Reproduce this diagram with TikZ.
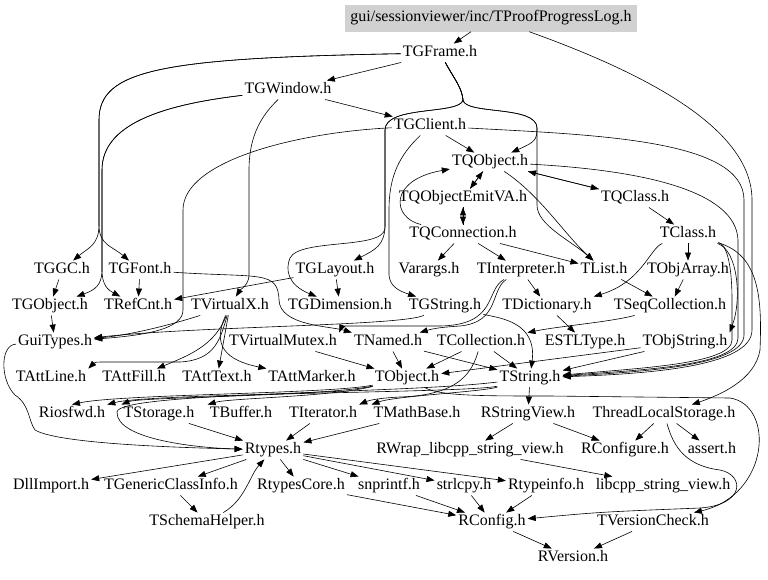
\documentclass[tikz,border=0pt]{standalone}
\usepackage{fontspec}
\setmainfont{Liberation Serif}
\usetikzlibrary{arrows.meta}

\begin{document}
\begin{tikzpicture}[x=1pt, y=-1pt, font=\fontsize{16}{19}\selectfont,
  f/.style={inner xsep=2pt, inner ysep=2pt, text height=11pt, text depth=3.5pt},
  top/.style={f, fill=black!18, minimum height=27pt, inner xsep=5pt},
  e/.style={-{Triangle[length=8pt,width=6pt]}, line width=0.6pt}]
\fill[white] (0,0) rectangle (768,579);
\useasboundingbox (0,0) rectangle (768,579);
% files, row by row
\node[top] (log) at (491,18) {gui/sessionviewer/inc/TProofProgressLog.h};
\node[f] (frame) at (440,53) {TGFrame.h};
\node[f] (window) at (288,90) {TGWindow.h};
\node[f] (client) at (430,126) {TGClient.h};
\node[f] (qobj) at (490,162) {TQObject.h};
\node[f] (emitva) at (463,198) {TQObjectEmitVA.h};
\node[f] (qclass) at (635,198) {TQClass.h};
\node[f] (qconn) at (463,234) {TQConnection.h};
\node[f] (cls) at (688,234) {TClass.h};
\node[f] (ggc) at (62,270) {TGGC.h};
\node[f] (gfont) at (140,270) {TGFont.h};
\node[f] (glayout) at (335,270) {TGLayout.h};
\node[f] (varargs) at (429,270) {Varargs.h};
\node[f] (interp) at (521,270) {TInterpreter.h};
\node[f] (tlist) at (604,270) {TList.h};
\node[f] (objarr) at (688,270) {TObjArray.h};
\node[f] (gobj) at (50,306) {TGObject.h};
\node[f] (refcnt) at (138,306) {TRefCnt.h};
\node[f] (vx) at (230,306) {TVirtualX.h};
\node[f] (gdim) at (340,306) {TGDimension.h};
\node[f] (gstr) at (445,306) {TGString.h};
\node[f] (dict) at (547,306) {TDictionary.h};
\node[f] (seqcoll) at (670,306) {TSeqCollection.h};
\node[f] (guit) at (55,342) {GuiTypes.h};
\node[f] (vmutex) at (283,342) {TVirtualMutex.h};
\node[f] (named) at (388,342) {TNamed.h};
\node[f] (coll) at (481,342) {TCollection.h};
\node[f] (estl) at (585,342) {ESTLType.h};
\node[f] (objstr) at (685,342) {TObjString.h};
\node[f] (attline) at (51,378) {TAttLine.h};
\node[f] (attfill) at (134,378) {TAttFill.h};
\node[f] (atttext) at (217,378) {TAttText.h};
\node[f] (attmarker) at (312,378) {TAttMarker.h};
\node[f] (tobj) at (407,378) {TObject.h};
\node[f] (tstr) at (530,378) {TString.h};
\node[f] (iosfwd) at (72,414) {Riosfwd.h};
\node[f] (storage) at (159,414) {TStorage.h};
\node[f] (buffer) at (241,414) {TBuffer.h};
\node[f] (iter) at (323,414) {TIterator.h};
\node[f] (mathb) at (417,414) {TMathBase.h};
\node[f] (sview) at (528,414) {RStringView.h};
\node[f] (tls) at (664,414) {ThreadLocalStorage.h};
\node[f] (rtypes) at (273,450) {Rtypes.h};
\node[f] (rwrap) at (470,450) {RWrap\_libcpp\_string\_view.h};
\node[f] (rconfigure) at (625,450) {RConfigure.h};
\node[f] (assert) at (712,450) {assert.h};
\node[f] (dllimp) at (51,486) {DllImport.h};
\node[f] (gci) at (171,486) {TGenericClassInfo.h};
\node[f] (rtcore) at (301,486) {RtypesCore.h};
\node[f] (snpr) at (389,486) {snprintf.h};
\node[f] (strl) at (464,486) {strlcpy.h};
\node[f] (rtinfo) at (546,486) {Rtypeinfo.h};
\node[f] (libsv) at (663,486) {libcpp\_string\_view.h};
\node[f] (schema) at (207,522) {TSchemaHelper.h};
\node[f] (rconfig) at (492,522) {RConfig.h};
\node[f] (vcheck) at (653,522) {TVersionCheck.h};
\node[f] (rversion) at (573,558) {RVersion.h};
% top part
\draw[e] (log) -- (frame);
\draw[e] (log) .. controls (650,75) and (752,130) .. (752,200) -- (752,330) .. controls (752,368) and (640,374) .. (tstr);
\draw[e] (frame) -- (window);
\draw[e] (frame) .. controls (160,58) and (99,70) .. (99,120) -- (99,225) .. controls (99,245) and (88,248) .. (ggc);
\draw[e] (frame) .. controls (160,58) and (99,70) .. (99,120) -- (99,225) .. controls (99,245) and (112,246) .. (gfont);
\draw[e] (frame) .. controls (455,80) and (462,88) .. (463,100) .. controls (465,115) and (537,105) .. (537,128) .. controls (537,140) and (535,142) .. (qobj);
\draw[e] (frame) .. controls (455,80) and (462,88) .. (463,100) .. controls (465,115) and (537,105) .. (537,128) -- (537,205) .. controls (537,225) and (570,240) .. (tlist);
\draw[e] (frame) .. controls (455,80) and (462,88) .. (463,100) .. controls (460,115) and (385,105) .. (385,130) -- (385,225) .. controls (385,245) and (375,250) .. (glayout);
\draw[e] (frame) .. controls (455,80) and (462,88) .. (463,100) .. controls (460,115) and (385,105) .. (385,130) -- (385,228) .. controls (384,250) and (300,238) .. (290,258) .. controls (285,270) and (288,285) .. (gdim);
\draw[e] (window) .. controls (160,105) and (102,125) .. (102,170) -- (102,270) .. controls (102,285) and (95,290) .. (gobj);
\draw[e] (window) .. controls (160,105) and (102,125) .. (102,170) -- (102,270) .. controls (102,285) and (108,290) .. (refcnt);
\draw[e] (window) -- (client);
\draw[e] (window) .. controls (262,115) and (249,135) .. (249,170) -- (249,275) .. controls (249,285) and (240,290) .. (vx);
\draw[e] (client) -- (qobj);
\draw[e] (client) .. controls (600,135) and (744,140) .. (744,200) -- (744,335) .. controls (744,366) and (640,372) .. (tstr);
\draw[e] (client) .. controls (300,132) and (183,160) .. (183,210) -- (183,310) .. controls (183,328) and (150,335) .. (guit);
\draw[e] (client) .. controls (400,155) and (389,175) .. (389,210) -- (389,275) .. controls (390,285) and (396,290) .. (gstr);
\draw[e] (qobj) -- (emitva);
\draw[e] (emitva) -- (qobj);
\draw[e] (qobj) -- (qclass);
\draw[e] (qclass) -- (qobj);
\draw[e] (qobj) .. controls (540,195) and (565,235) .. (tlist);
\draw[e] (qobj) .. controls (640,170) and (736,190) .. (738,240) -- (738,338) .. controls (738,366) and (640,370) .. (tstr);
\draw[e] (emitva) -- (qconn);
\draw[e] (qconn) -- (emitva);
\draw[e] (qconn) .. controls (392,218) and (388,180) .. (qobj);
\draw[e] (qclass) -- (cls);
\draw[e] (qconn) -- (varargs);
\draw[e] (qconn) -- (interp);
\draw[e] (qconn) -- (tlist);
\draw[e] (cls) -- (objarr);
\draw[e] (cls) .. controls (650,248) and (642,282) .. (dict.north east);
\draw[e] (cls) .. controls (728,245) and (732,270) .. (732,300) -- (732,340) .. controls (732,364) and (640,368) .. (tstr);
\draw[e] (cls) .. controls (738,250) and (742,300) .. (objstr.north east);
\draw[e] (cls) .. controls (760,255) and (762,300) .. (760,350) .. controls (755,380) and (720,395) .. (tls);
% middle part
\draw[e] (ggc) -- (gobj);
\draw[e] (gfont) -- (refcnt);
\draw[e] (glayout) -- (gdim);
\draw[e] (glayout) -- (refcnt);
\draw[e] (gfont) .. controls (260,278) and (278,270) .. (279,300) .. controls (280,326) and (330,326) .. (named.north west);
\draw[e] (interp) -- (dict);
\draw[e] (tlist) -- (seqcoll);
\draw[e] (objarr) -- (seqcoll);
\draw[e] (interp) .. controls (490,290) and (500,322) .. (460,326) .. controls (445,327) and (435,328) .. (named);
\draw[e] (interp) .. controls (485,290) and (498,325) .. (440,326) -- (350,326) .. controls (342,326) .. (vmutex.north east);
\draw[e] (seqcoll) .. controls (610,322) and (560,326) .. (coll);
\draw[e] (dict) -- (estl);
\draw[e] (gobj) -- (guit);
\draw[e] (vx) .. controls (170,325) and (130,335) .. (guit);
\draw[e] (gstr) .. controls (400,326) and (200,326) .. (guit);
\draw[e] (gstr) .. controls (500,318) and (537,322) .. (tstr);
\draw[e] (guit) .. controls (0,345) and (0,380) .. (15,395) .. controls (30,405) and (28,420) .. (35,430) .. controls (60,445) and (200,448) .. (rtypes);
\draw[e] (vx) .. controls (220,340) and (215,360) .. (180,362) -- (110,362) .. controls (95,362) .. (attline.north east);
\draw[e] (vx) .. controls (215,345) and (190,355) .. (attfill);
\draw[e] (vx) -- (atttext);
\draw[e] (vx) .. controls (212,345) and (225,360) .. (attmarker);
\draw[e] (vmutex) -- (tobj);
\draw[e] (named) -- (tobj);
\draw[e] (named) -- (tstr);
\draw[e] (coll) -- (tobj);
\draw[e] (coll) -- (tstr);
\draw[e] (coll) .. controls (472,372) and (460,395) .. (400,397) .. controls (380,398) and (370,400) .. (iter.north east);
\draw[e] (objstr) -- (tstr);
\draw[e] (objstr) -- (tobj);
% lower part
\draw[e] (tobj) .. controls (330,394) and (120,394) .. (iosfwd.north);
\draw[e] (tstr) .. controls (470,393) and (150,393) .. (iosfwd.north east);
\draw[e] (tobj) .. controls (330,396) and (140,397) .. (storage.north west);
\draw[e] (tobj) .. controls (330,397) and (230,398) .. (buffer.north west);
\draw[e] (tstr) .. controls (480,392) and (395,396) .. (mathb.north west);
\draw[e] (tstr) .. controls (400,394) and (118,392) .. (117,412) .. controls (116,440) and (200,448) .. (rtypes);
\draw[e] (tobj) .. controls (440,396) and (480,396) .. (550,396) -- (730,398) .. controls (775,405) and (770,495) .. (vcheck);
\draw[e] (tstr) -- (sview);
\draw[e] (tls) -- (rconfigure);
\draw[e] (tls) -- (assert);
\draw[e] (tls) .. controls (672,440) and (680,465) .. (720,470) .. controls (745,475) and (745,505) .. (700,508) .. controls (600,512) .. (rconfig);
\draw[e] (sview) -- (rwrap);
\draw[e] (sview) -- (rconfigure);
\draw[e] (rwrap) -- (libsv);
\draw[e] (storage) -- (rtypes);
\draw[e] (iter) -- (rtypes);
\draw[e] (mathb) -- (rtypes);
\draw[e] (rtypes) -- (dllimp);
\draw[e] (rtypes) -- (gci);
\draw[e] (rtypes) -- (rtcore);
\draw[e] (rtypes) -- (snpr);
\draw[e] (rtypes) -- (strl);
\draw[e] (rtypes) -- (rtinfo);
\draw[e] (gci) -- (schema);
\draw[e] (schema) .. controls (245,500) and (250,475) .. (rtypes);
\draw[e] (rtcore) -- (rconfig);
\draw[e] (snpr) -- (rconfig);
\draw[e] (strl) -- (rconfig);
\draw[e] (rtinfo) -- (rconfig);
\draw[e] (rconfig) -- (rversion);
\draw[e] (vcheck) -- (rversion);
\end{tikzpicture}
\end{document}
